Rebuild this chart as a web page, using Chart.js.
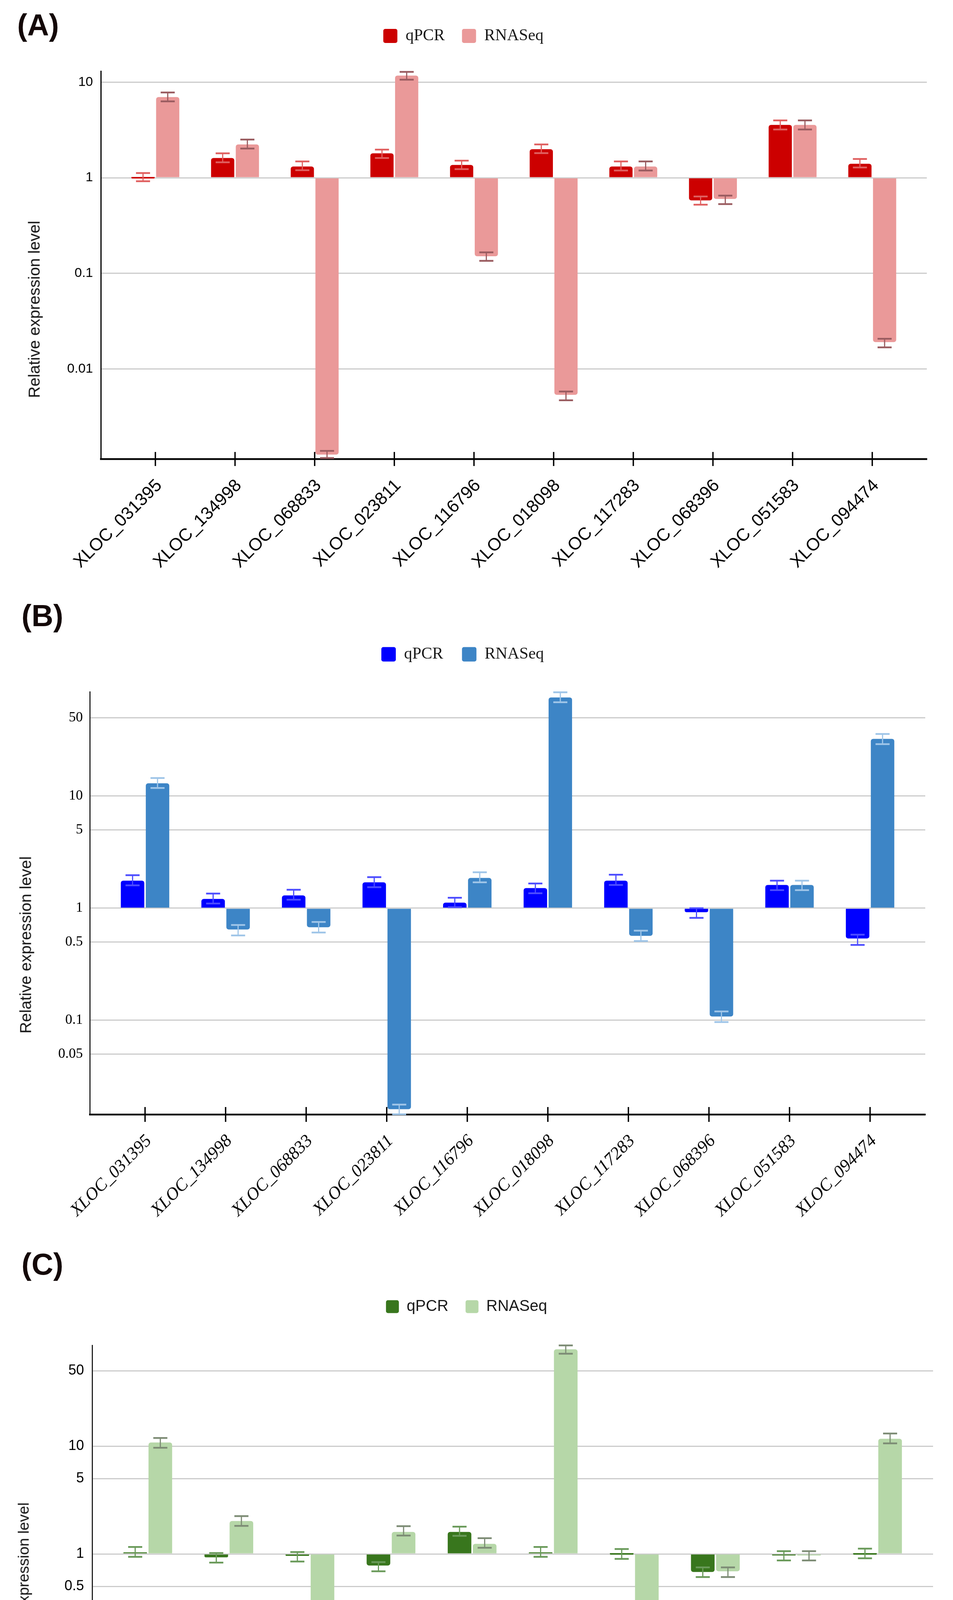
<!DOCTYPE html>
<html>
<head>
<meta charset="utf-8">
<title>Relative expression level</title>
<script src="https://cdn.jsdelivr.net/npm/chart.js@4.4.1/dist/chart.umd.min.js"></script>
<style>
  html, body { margin: 0; padding: 0; background: #fff; }
  #page { position: relative; width: 2439px; height: 4784px; background: #fff; overflow: hidden; }
  .panel { position: absolute; left: 0; width: 2439px; }
  .tag { position: absolute; font: bold 77px 'Liberation Sans', Arial, sans-serif; line-height: 1; color: #140808; }
  .ytitle { position: absolute; font: 41px 'Liberation Sans', Arial, sans-serif; line-height: 1; white-space: nowrap;
            color: #111; transform: translate(-50%, -50%) rotate(-90deg); }
</style>
</head>
<body>
<div id="page">
  <div class="panel" style="top:0;height:1500px"><canvas id="chartA"></canvas></div>
  <div class="panel" style="top:1500px;height:1650px"><canvas id="chartB"></canvas></div>
  <div class="panel" style="top:3150px;height:1634px"><canvas id="chartC"></canvas></div>

  <div class="tag" style="left:44px;top:26px">(A)</div>
  <div class="tag" style="left:55px;top:1538px">(B)</div>
  <div class="tag" style="left:55px;top:3198px">(C)</div>

  <div class="ytitle" style="left:88px;top:792px">Relative expression level</div>
  <div class="ytitle" style="left:66px;top:2419px">Relative expression level</div>
  <div class="ytitle" style="left:60px;top:4062px;font-size:39px">Relative expression level</div>
</div>

<script>
// genes on the x axis (same order in all three panels)
var genes = ["XLOC_031395", "XLOC_134998", "XLOC_068833", "XLOC_023811", "XLOC_116796",
             "XLOC_018098", "XLOC_117283", "XLOC_068396", "XLOC_051583", "XLOC_094474"];
var seriesNames = ["qPCR", "RNASeq"];

// (A)
var aQpcr   = [1.0, 1.61, 1.31, 1.80, 1.36, 1.99, 1.31, 0.58, 3.57, 1.40];
var aQpcrHi = [1.12, 1.80, 1.48, 1.97, 1.51, 2.23, 1.48, 0.636, 3.98, 1.57];
var aQpcrLo = [0.92, 1.45, 1.20, 1.61, 1.23, 1.81, 1.19, 0.523, 3.20, 1.28];
var aRna    = [6.98, 2.23, 0.00127, 11.7, 0.151, 0.00536, 1.31, 0.60, 3.57, 0.0191];
var aRnaHi  = [7.8, 2.51, 0.00139, 12.8, 0.166, 0.0058, 1.48, 0.65, 3.98, 0.0207];
var aRnaLo  = [6.3, 2.02, 0.00117, 10.6, 0.135, 0.0047, 1.19, 0.53, 3.20, 0.0168];
var aTicks  = [0.01, 0.1, 1, 10];

// (B)
var bQpcr   = [1.76, 1.21, 1.30, 1.70, 1.12, 1.51, 1.76, 0.92, 1.61, 0.537];
var bQpcrHi = [1.97, 1.35, 1.46, 1.89, 1.24, 1.66, 1.99, 1.0, 1.76, 0.58];
var bQpcrLo = [1.60, 1.10, 1.19, 1.54, 1.02, 1.36, 1.61, 0.82, 1.45, 0.47];
var bRna    = [13.0, 0.646, 0.676, 0.0161, 1.86, 75.8, 0.567, 0.108, 1.61, 32.4];
var bRnaHi  = [14.5, 0.708, 0.753, 0.0177, 2.09, 84.4, 0.63, 0.12, 1.76, 35.8];
var bRnaLo  = [11.8, 0.571, 0.607, 0.0145, 1.70, 68.7, 0.509, 0.0964, 1.45, 29.1];
var bTicks  = [0.05, 0.1, 0.5, 1, 5, 10, 50];

// (C)
var cQpcr   = [1.03, 0.93, 0.96, 0.78, 1.60, 1.035, 1.0, 0.68, 0.97, 1.0];
var cQpcrHi = [1.16, 1.02, 1.04, 0.84, 1.79, 1.16, 1.11, 0.75, 1.06, 1.12];
var cQpcrLo = [0.94, 0.83, 0.85, 0.69, 1.47, 0.94, 0.90, 0.61, 0.87, 0.91];
var cRna    = [10.8, 2.02, 0.0164, 1.60, 1.24, 79, 0.133, 0.69, 0.98, 11.7];
var cRnaHi  = [11.9, 2.24, 0.0178, 1.81, 1.40, 86, 0.145, 0.75, 1.06, 13.1];
var cRnaLo  = [9.65, 1.82, 0.0148, 1.48, 1.14, 72, 0.119, 0.61, 0.87, 10.6];
var cTicks  = [0.05, 0.1, 0.5, 1, 5, 10, 50];

var SANS = "'Liberation Sans', Arial, sans-serif";
var SERIF = "'Liberation Serif', 'Times New Roman', serif";

// error bars: stem + two caps, drawn through the y scale
var errorBars = {
  id: 'errorBars',
  afterDatasetsDraw: function(chart) {
    var ctx = chart.ctx, y = chart.scales.y;
    chart.data.datasets.forEach(function(ds, i) {
      var meta = chart.getDatasetMeta(i);
      if (meta.hidden) return;
      ctx.save();
      ctx.strokeStyle = ds.errColor;
      meta.data.forEach(function(bar, j) {
        var hi = y.getPixelForValue(ds.errHi[j]);
        var lo = y.getPixelForValue(ds.errLo[j]);
        var half = 18;
        ctx.lineWidth = 3;
        ctx.beginPath();
        ctx.moveTo(bar.x, hi);
        ctx.lineTo(bar.x, lo);
        ctx.stroke();
        ctx.lineWidth = 4.5;
        ctx.beginPath();
        ctx.moveTo(bar.x - half, hi); ctx.lineTo(bar.x + half, hi);
        ctx.moveTo(bar.x - half, lo); ctx.lineTo(bar.x + half, lo);
        ctx.stroke();
      });
      ctx.restore();
    });
  }
};

// tick marks that cross the x axis line
var axisTicks = {
  id: 'axisTicks',
  afterDraw: function(chart, args, opts) {
    var ctx = chart.ctx, x = chart.scales.x, b = chart.chartArea.bottom;
    var len = opts.len || 18;
    ctx.save();
    ctx.strokeStyle = '#000';
    ctx.lineWidth = 3.5;
    ctx.beginPath();
    x.ticks.forEach(function(t) {
      var px = x.getPixelForValue(t.value);
      ctx.moveTo(px, b - len);
      ctx.lineTo(px, b + len);
    });
    ctx.stroke();
    ctx.restore();
  }
};

function makeChart(id, p) {
  return new Chart(document.getElementById(id), {
    type: 'bar',
    data: {
      datasets: [
        {
          label: seriesNames[0],
          data: p.qpcr.map(function(v, i) { return {x: i, y: v}; }),
          backgroundColor: p.colors[0],
          errColor: p.errColors[0],
          errHi: p.qpcrHi, errLo: p.qpcrLo,
          xAxisID: 'x', yAxisID: 'y'
        },
        {
          label: seriesNames[1],
          data: p.rna.map(function(v, i) { return {x: i, y: v}; }),
          backgroundColor: p.colors[1],
          errColor: p.errColors[1],
          errHi: p.rnaHi, errLo: p.rnaLo,
          xAxisID: 'x', yAxisID: 'y'
        }
      ]
    },
    options: {
      responsive: true,
      maintainAspectRatio: false,
      animation: false,
      devicePixelRatio: 1,
      layout: { padding: p.padding },
      datasets: {
        bar: {
          base: 1,
          borderRadius: 6,
          borderWidth: 0,
          minBarLength: 4,
          categoryPercentage: 0.62,
          barPercentage: 0.94
        }
      },
      plugins: {
        tooltip: { enabled: false },
        axisTicks: { len: p.tickLen },
        legend: {
          position: 'top',
          labels: {
            color: '#1a1a1a',
            font: { family: p.legendFont, size: p.legendSize },
            boxWidth: p.legendBox,
            boxHeight: p.legendBox,
            padding: p.legendPad,
            useBorderRadius: true,
            borderRadius: 5
          }
        }
      },
      scales: {
        x: {
          type: 'linear',
          position: 'bottom',
          min: -0.685,
          max: 9.685,
          offset: false,
          grid: { display: false, drawTicks: false },
          border: { display: true, color: '#000', width: 4.5 },
          afterBuildTicks: function(s) {
            s.ticks = genes.map(function(g, i) { return {value: i}; });
          },
          afterFit: function(s) { s.height = p.xHeight; },
          ticks: {
            autoSkip: false,
            minRotation: 45,
            maxRotation: 45,
            padding: 42,
            labelOffset: 10,
            color: '#000',
            font: p.labelFont,
            callback: function(v) { return genes[Math.round(v)]; }
          }
        },
        spacer: {
          type: 'linear',
          axis: 'x',
          position: 'top',
          display: true,
          grid: { display: false, drawTicks: false },
          border: { display: false },
          ticks: { display: false },
          afterFit: function(s) { s.height = p.spacer; }
        },
        y: {
          type: 'logarithmic',
          min: p.yMin,
          max: p.yMax,
          grid: { color: '#cccccc', lineWidth: 3, drawTicks: false },
          border: { display: true, color: '#000', width: p.yBorder },
          afterBuildTicks: function(s) {
            s.ticks = p.ticks.map(function(v) { return {value: v}; });
          },
          afterFit: function(s) { s.width = p.yWidth; },
          ticks: {
            padding: p.tickPad,
            color: '#000',
            font: p.tickFont,
            callback: function(v) { return String(v); }
          }
        }
      }
    },
    plugins: [errorBars, axisTicks]
  });
}

makeChart('chartA', {
  qpcr: aQpcr, qpcrHi: aQpcrHi, qpcrLo: aQpcrLo,
  rna: aRna, rnaHi: aRnaHi, rnaLo: aRnaLo,
  ticks: aTicks, yMin: 0.001143, yMax: 13.05,
  colors: ['#cc0000', '#ea9999'],
  errColors: ['#e06060', '#9a5c60'],
  padding: { top: 27, right: 67, left: 0, bottom: 0 },
  yWidth: 258, xHeight: 325, spacer: 59,
  legendPad: 44, legendBox: 36, legendFont: SERIF, legendSize: 42,
  tickFont: { family: SANS, size: 34 }, tickPad: 20,
  labelFont: { family: SANS, size: 45 },
  yBorder: 3, tickLen: 18
});

makeChart('chartB', {
  qpcr: bQpcr, qpcrHi: bQpcrHi, qpcrLo: bQpcrLo,
  rna: bRna, rnaHi: bRnaHi, rnaLo: bRnaLo,
  ticks: bTicks, yMin: 0.01445, yMax: 85.2,
  colors: ['#0000ff', '#3d85c6'],
  errColors: ['#4d4dff', '#9fc5e8'],
  padding: { top: 106, right: 71, left: 0, bottom: 0 },
  yWidth: 230, xHeight: 297, spacer: 65,
  legendPad: 48, legendBox: 37, legendFont: SERIF, legendSize: 42,
  tickFont: { family: SERIF, size: 36 }, tickPad: 18,
  labelFont: { family: SERIF, size: 45, style: 'italic' },
  yBorder: 2.5, tickLen: 19
});

makeChart('chartC', {
  qpcr: cQpcr, qpcrHi: cQpcrHi, qpcrLo: cQpcrLo,
  rna: cRna, rnaHi: cRnaHi, rnaLo: cRnaLo,
  ticks: cTicks, yMin: 0.01468, yMax: 86.1,
  colors: ['#38761d', '#b6d7a8'],
  errColors: ['#6a9a5a', '#7d8c75'],
  padding: { top: 131, right: 51, left: 0, bottom: 0 },
  yWidth: 236, xHeight: 300, spacer: 69,
  legendPad: 44, legendBox: 33, legendFont: SANS, legendSize: 40,
  tickFont: { family: SANS, size: 36 }, tickPad: 21,
  labelFont: { family: SERIF, size: 45, style: 'italic' },
  yBorder: 2.5, tickLen: 17
});
</script>
</body>
</html>
